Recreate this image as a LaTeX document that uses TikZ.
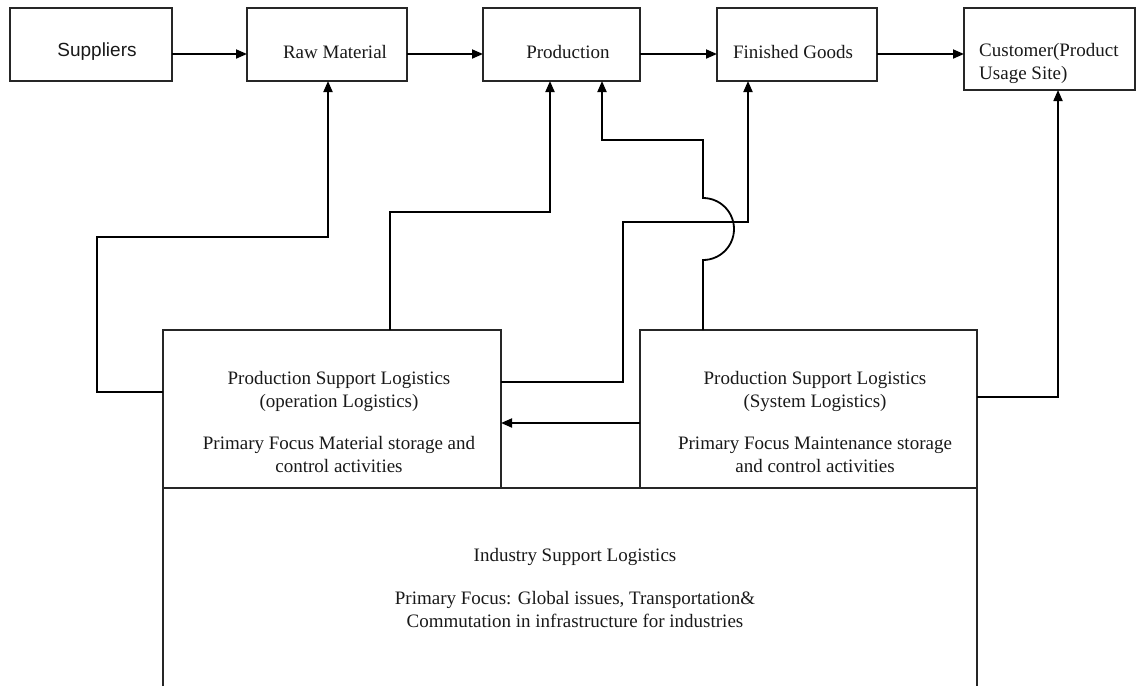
\documentclass[tikz,border=0pt]{standalone}
\usepackage{fontspec}
\setmainfont{Liberation Serif}
\newfontfamily\arialfont{Liberation Sans}
\usetikzlibrary{arrows.meta}
\begin{document}
\begin{tikzpicture}[x=1pt,y=-1pt,
  box/.style={draw=black!85, line width=1.3pt, inner sep=0pt, outer sep=0pt, anchor=north west},
  area/.style={inner sep=0pt, outer sep=0pt, anchor=north west},
  conn/.style={draw=black, line width=1.8pt, -{Triangle[length=11pt,width=9pt]}},
  lbl/.style={font=\fontsize{19}{23}\selectfont, text=black!90, inner sep=0pt, align=center},
  lbll/.style={font=\fontsize{19}{23}\selectfont, text=black!90, inner sep=0pt, align=left, anchor=west},
]
\useasboundingbox (0,0) rectangle (1137,686);
% top row boxes
\node[box, minimum width=162pt, minimum height=73pt] (sup) at (10,8) {};
\node[box, minimum width=160pt, minimum height=73pt] (raw) at (247,8) {};
\node[box, minimum width=157pt, minimum height=73pt] (prod) at (483,8) {};
\node[box, minimum width=160pt, minimum height=73pt] (fin) at (717,8) {};
\node[box, minimum width=171pt, minimum height=82pt] (cust) at (964,8) {};
% lower boxes
\node[box, minimum width=338pt, minimum height=158pt] (opl) at (163,330) {};
\node[box, minimum width=337pt, minimum height=158pt] (syl) at (640,330) {};
\node[area, minimum width=814pt, minimum height=198pt] (ind) at (163,488) {};
\draw[black!85, line width=1.3pt] (ind.south west) -- (ind.north west) -- (ind.north east) -- (ind.south east);
% texts
\node[lbl, font=\arialfont\fontsize{19}{23}\selectfont] (supt) at (97,52) {Suppliers};
\node[lbl] (rawt) at (335,52) {Raw Material};
\node[lbl] (prodt) at (568,52) {Production};
\node[lbl] (fint) at (793,52) {Finished Goods};
\node[lbll] (custt) at (979,63) {Customer(Product\\Usage Site)};
\node[lbl] (oplt) at (339,422) {Production Support Logistics\\(operation Logistics)\\[19pt]Primary Focus Material storage and\\control activities};
\node[lbl] (sylt) at (815,422) {Production Support Logistics\\(System Logistics)\\[19pt]Primary Focus Maintenance storage\\and control activities};
\node[lbl] (indt) at (575,588) {Industry Support Logistics\\[20pt]Primary Focus: Global issues, Transportation\&\\Commutation in infrastructure for industries};
% top row arrows
\draw[conn] (sup.east |- 0,54) -- (raw.west |- 0,54);
\draw[conn] (raw.east |- 0,54) -- (prod.west |- 0,54);
\draw[conn] (prod.east |- 0,54) -- (fin.west |- 0,54);
\draw[conn] (fin.east |- 0,54) -- (cust.west |- 0,54);
% support connectors
\draw[conn] (opl.west |- 0,392) -| (97,237) -| (raw.south -| 328,0);
\draw[conn] (opl.north -| 390,0) |- (550,212) -- (prod.south -| 550,0);
\draw[conn] (opl.east |- 0,382) -| (623,222) -| (fin.south -| 748,0);
\draw[conn] (syl.north -| 703,0) -- (703,260) arc[start angle=-90, end angle=90, radius=31pt] -- (703,140) -| (prod.south -| 602,0);
\draw[conn] (syl.west |- 0,423) -- (opl.east |- 0,423);
\draw[conn] (syl.east |- 0,397) -| (cust.south -| 1058,0);
\end{tikzpicture}
\end{document}
